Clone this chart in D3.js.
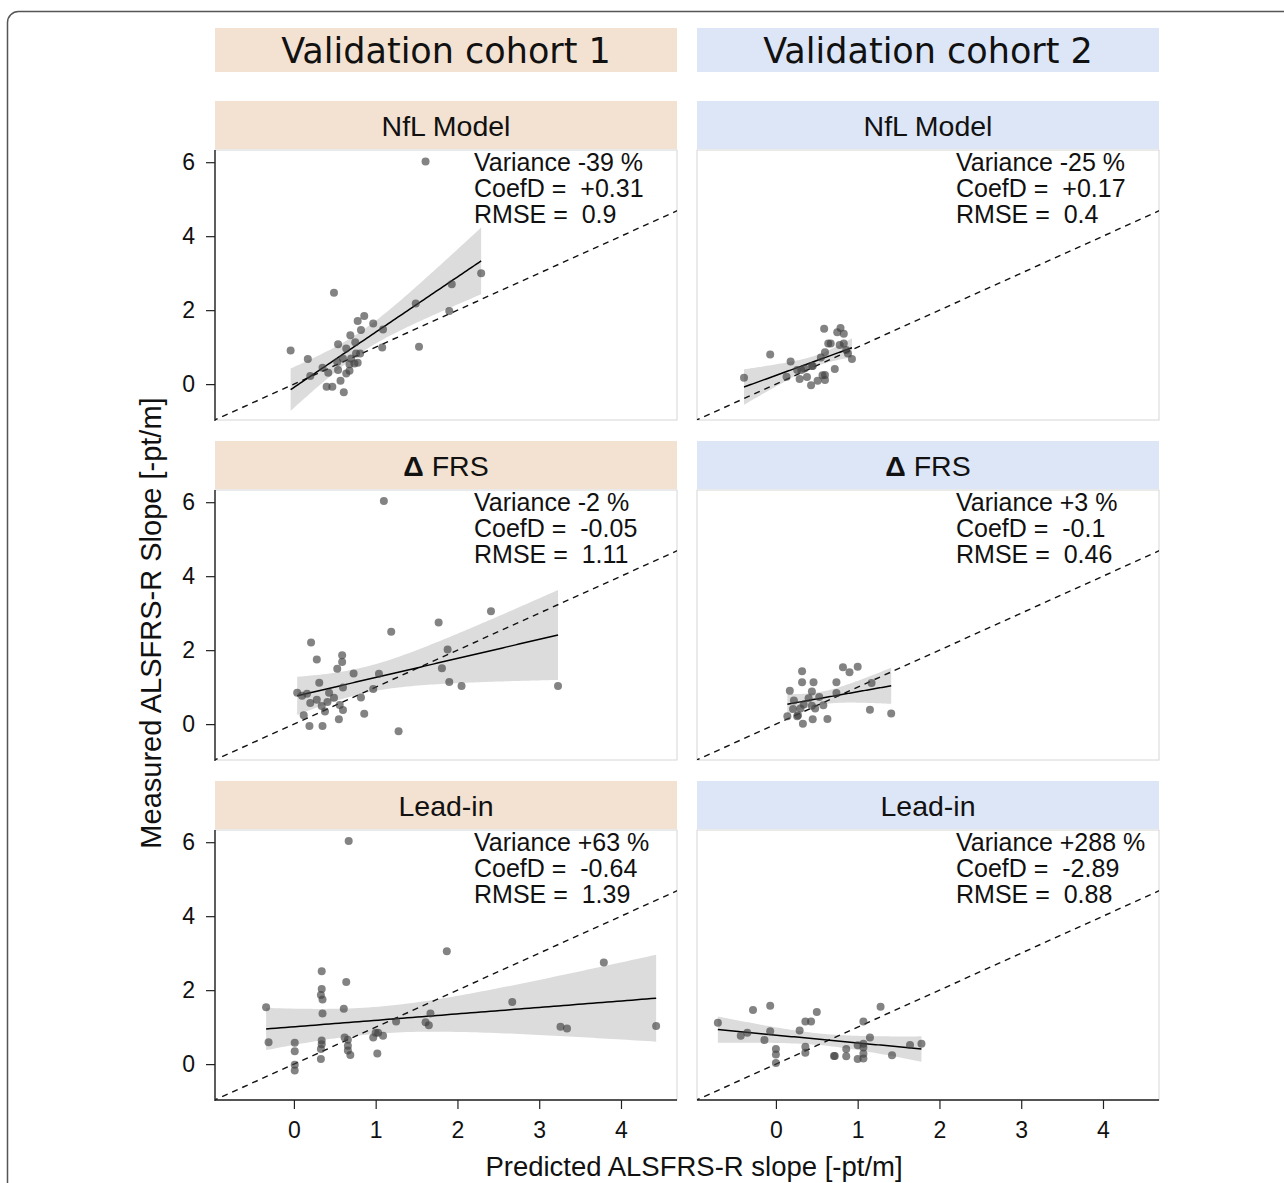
<!DOCTYPE html>
<html>
<head>
<meta charset="utf-8">
<script src="https://cdn.jsdelivr.net/npm/d3@7"></script>
<style>
  body { margin: 0; background: #fff; }
  svg text { font-family: "Liberation Sans", Arial, sans-serif; }
</style>
</head>
<body>
<div id="chart"></div>
<script>
// cohorts / models
var cohorts = ["Validation cohort 1", "Validation cohort 2"];
var models = ["NfL Model", "\u0394 FRS", "Lead-in"];
var stripColors = ["#f3e2d1", "#dde6f6"];

// measured vs predicted points: [predicted, measured]
var nflCohort1 = [[1.61,6.02],[0.49,2.47],[-0.04,0.91],[0.17,0.68],[0.20,0.22],[0.35,0.44],[0.42,0.31],[0.40,-0.07],
  [0.47,-0.07],[0.61,-0.22],[0.57,0.09],[0.54,1.08],[0.53,0.60],[0.54,0.38],[0.64,0.96],[0.60,0.69],[0.64,0.29],
  [0.68,0.36],[0.69,1.32],[0.70,0.69],[0.68,0.54],[0.75,1.13],[0.76,0.83],[0.81,0.83],[0.74,0.56],[0.78,0.58],
  [0.78,1.71],[0.82,1.46],[0.86,1.84],[0.97,1.64],[1.09,1.48],[1.08,0.99],[1.49,2.18],[1.53,1.01],[1.93,2.70],
  [1.90,1.98],[2.29,3.00]];
var nflCohort2 = [[-0.39,0.17],[-0.07,0.80],[0.18,0.61],[0.13,0.20],[0.26,0.38],[0.29,0.14],[0.31,0.38],[0.35,0.42],
  [0.38,0.19],[0.43,-0.03],[0.44,0.49],[0.45,0.49],[0.51,0.09],[0.55,0.72],[0.57,0.24],[0.60,0.25],[0.60,0.11],
  [0.60,0.86],[0.59,1.50],[0.64,1.10],[0.67,1.10],[0.72,0.41],[0.75,1.40],[0.79,1.52],[0.78,1.06],[0.83,1.36],
  [0.83,1.10],[0.88,0.83],[0.93,0.68],[0.86,0.92]];
var frsCohort1 = [[1.10,6.03],[0.21,2.21],[0.28,1.75],[0.59,1.86],[0.59,1.68],[0.53,1.50],[0.73,1.37],[0.31,1.12],
  [0.60,0.99],[0.04,0.85],[0.10,0.77],[0.16,0.82],[0.20,0.57],[0.28,0.66],[0.43,0.85],[0.49,0.71],[0.41,0.60],
  [0.34,0.49],[0.38,0.34],[0.12,0.24],[0.19,-0.05],[0.35,-0.05],[0.55,0.13],[0.56,0.52],[0.60,0.38],[0.82,0.72],
  [0.86,0.28],[0.97,0.95],[1.04,1.36],[1.19,2.50],[1.28,-0.19],[1.77,2.75],[1.88,2.02],[1.81,1.51],[1.90,1.14],
  [2.05,1.03],[2.41,3.05],[3.23,1.03]];
var frsCohort2 = [[0.32,1.43],[0.82,1.54],[0.90,1.40],[1.00,1.55],[0.32,1.13],[0.46,1.13],[0.74,1.13],[1.17,1.11],
  [0.17,0.90],[0.44,0.88],[0.74,0.84],[0.22,0.64],[0.40,0.70],[0.53,0.73],[0.34,0.53],[0.44,0.50],[0.58,0.51],
  [0.21,0.41],[0.30,0.42],[0.48,0.42],[0.14,0.21],[0.26,0.21],[0.27,0.24],[0.33,0.01],[0.45,0.13],[0.63,0.14],
  [1.15,0.39],[1.41,0.29]];
var leadCohort1 = [[0.67,6.03],[-0.34,1.54],[-0.31,0.59],[0.01,0.58],[0.01,0.35],[0.01,-0.02],[0.01,-0.17],[0.34,2.51],
  [0.34,2.03],[0.33,1.87],[0.35,1.75],[0.35,1.37],[0.34,0.64],[0.34,0.54],[0.33,0.41],[0.33,0.14],[0.64,2.22],
  [0.61,1.50],[0.62,0.72],[0.66,0.66],[0.66,0.50],[0.66,0.37],[0.69,0.25],[0.97,0.72],[1.00,0.85],[1.03,0.85],
  [1.09,0.77],[1.02,0.29],[1.25,1.15],[1.61,1.13],[1.65,1.05],[1.67,1.37],[1.87,3.05],[2.67,1.68],[3.26,1.01],
  [3.34,0.96],[3.79,2.75],[4.43,1.03]];
var leadCohort2 = [[-0.71,1.12],[-0.28,1.46],[-0.07,1.58],[-0.43,0.77],[-0.35,0.85],[-0.14,0.65],[-0.07,0.89],[0.00,0.41],
  [0.00,0.26],[0.00,0.03],[0.29,0.91],[0.36,1.15],[0.43,1.15],[0.50,1.41],[0.36,0.47],[0.36,0.31],[0.71,0.22],
  [0.72,0.22],[0.86,0.41],[0.86,0.21],[1.00,0.51],[1.07,0.55],[1.07,0.45],[1.07,0.28],[1.07,0.15],[1.00,0.14],
  [1.07,1.15],[1.15,0.72],[1.28,1.55],[1.42,0.24],[1.64,0.52],[1.78,0.55]];

// annotation stats per panel (row = model, col = cohort)
var varianceLabels = [["-39", "-25"], ["-2", "+3"], ["+63", "+288"]];
var coefDLabels = [["+0.31", "+0.17"], ["-0.05", "-0.1"], ["-0.64", "-2.89"]];
var rmseLabels = [["0.9", "0.4"], ["1.11", "0.46"], ["1.39", "0.88"]];

var panelData = [[nflCohort1, nflCohort2], [frsCohort1, frsCohort2], [leadCohort1, leadCohort2]];

var xTicks = [0, 1, 2, 3, 4];
var yTicks = [0, 2, 4, 6];

var W = 1284, H = 1183;
var svg = d3.select("#chart").append("svg").attr("width", W).attr("height", H);

// journal frame
svg.append("rect").attr("x", 7.5).attr("y", 11.5).attr("width", 1290).attr("height", 1200)
  .attr("rx", 11).attr("fill", "none").attr("stroke", "#555").attr("stroke-width", 1.5);

var panelLeft = [215, 697];
var panelTop = [150, 490, 830];
var pw = 462, ph = 270;

var x = d3.scaleLinear().domain([-0.965, 4.685]).range([0, pw]);
var y = d3.scaleLinear().domain([-0.97, 6.33]).range([ph, 0]);

// cohort headers
cohorts.forEach(function(c, j) {
  svg.append("rect").attr("x", panelLeft[j]).attr("y", 28).attr("width", pw).attr("height", 44)
    .attr("fill", stripColors[j]);
  svg.append("text").text(c).attr("x", panelLeft[j] + pw / 2).attr("y", 63)
    .attr("text-anchor", "middle").style("font-family", "'DejaVu Sans', sans-serif")
    .attr("font-size", "35px").attr("fill", "#111");
});

// simple OLS with 95% confidence band
function fit(pts) {
  var n = pts.length;
  var mx = d3.mean(pts, function(d) { return d[0]; });
  var my = d3.mean(pts, function(d) { return d[1]; });
  var sxx = d3.sum(pts, function(d) { return (d[0] - mx) * (d[0] - mx); });
  var sxy = d3.sum(pts, function(d) { return (d[0] - mx) * (d[1] - my); });
  var b = sxy / sxx, a = my - b * mx;
  var sse = d3.sum(pts, function(d) { var r = d[1] - a - b * d[0]; return r * r; });
  var s = Math.sqrt(sse / (n - 2));
  var t = 2.03;
  var ext = d3.extent(pts, function(d) { return d[0]; });
  var band = d3.range(0, 81).map(function(i) {
    var xv = ext[0] + (ext[1] - ext[0]) * i / 80;
    var yv = a + b * xv;
    var se = s * Math.sqrt(1 / n + (xv - mx) * (xv - mx) / sxx);
    return { x: xv, y: yv, lo: yv - t * se, hi: yv + t * se };
  });
  return band;
}

models.forEach(function(m, i) {
  cohorts.forEach(function(c, j) {
    var g = svg.append("g").attr("transform", "translate(" + panelLeft[j] + "," + panelTop[i] + ")");
    var clipId = "clip" + i + j;
    g.append("clipPath").attr("id", clipId).append("rect").attr("width", pw).attr("height", ph);

    // strip
    g.append("rect").attr("x", 0).attr("y", -49).attr("width", pw).attr("height", 48)
      .attr("fill", stripColors[j]);
    var st = g.append("text").attr("x", pw / 2).attr("y", -14).attr("text-anchor", "middle")
      .attr("font-size", "28.5px").attr("fill", "#111");
    if (i === 1) {
      st.append("tspan").text("\u0394").attr("font-weight", "bold");
      st.append("tspan").text(" FRS");
    } else {
      st.text(m);
    }

    // panel border
    g.append("rect").attr("width", pw).attr("height", ph).attr("fill", "#fff")
      .attr("stroke", "#d6d6d6").attr("stroke-width", 1);

    var inner = g.append("g").attr("clip-path", "url(#" + clipId + ")");
    var pts = panelData[i][j];
    var band = fit(pts);

    inner.append("path").datum(band)
      .attr("d", d3.area().x(function(d) { return x(d.x); })
        .y0(function(d) { return y(d.lo); }).y1(function(d) { return y(d.hi); }))
      .attr("fill", "#dcdcdc");

    // identity line
    inner.append("line").attr("x1", x(-1)).attr("y1", y(-1)).attr("x2", x(5)).attr("y2", y(5))
      .attr("stroke", "#111").attr("stroke-width", 1.4).attr("stroke-dasharray", "6,5");

    inner.append("path").datum(band)
      .attr("d", d3.line().x(function(d) { return x(d.x); }).y(function(d) { return y(d.y); }))
      .attr("fill", "none").attr("stroke", "#000").attr("stroke-width", 1.5);

    inner.selectAll("circle.pt").data(pts).enter().append("circle").attr("class", "pt")
      .attr("cx", function(d) { return x(d[0]); }).attr("cy", function(d) { return y(d[1]); })
      .attr("r", 4).attr("fill", "#404040").attr("fill-opacity", 0.65);

    // annotation
    var lines = ["Variance " + varianceLabels[i][j] + " %", "CoefD =  " + coefDLabels[i][j],
      "RMSE =  " + rmseLabels[i][j]];
    lines.forEach(function(l, k) {
      g.append("text").text(l).attr("x", 259).attr("y", 21 + k * 26)
        .attr("font-size", "25px").attr("fill", "#111").style("white-space", "pre");
    });

    // axes
    if (j === 0) {
      var ya = g.append("g").call(d3.axisLeft(y).tickValues(yTicks).tickSize(9).tickPadding(11)
        .tickFormat(d3.format("d")));
      ya.select(".domain").attr("stroke", "#222").attr("stroke-width", 1.4)
        .attr("d", "M0," + (ph + 1) + "V0");
      ya.selectAll(".tick line").attr("stroke", "#222").attr("stroke-width", 1.2);
      ya.selectAll("text").attr("font-size", "23px").attr("fill", "#111")
        .style("font-family", "'Liberation Sans', Arial, sans-serif");
    }
    if (i === 2) {
      var xa = g.append("g").attr("transform", "translate(0," + ph + ")")
        .call(d3.axisBottom(x).tickValues(xTicks).tickSize(9).tickPadding(13).tickFormat(d3.format("d")));
      xa.select(".domain").attr("stroke", "#222").attr("stroke-width", 1.4)
        .attr("d", "M0,0H" + pw);
      xa.selectAll(".tick line").attr("stroke", "#222").attr("stroke-width", 1.2);
      xa.selectAll("text").attr("font-size", "23px").attr("fill", "#111")
        .style("font-family", "'Liberation Sans', Arial, sans-serif");
    }
  });
});

// axis titles
svg.append("text").text("Predicted ALSFRS-R slope [-pt/m]").attr("x", 694).attr("y", 1176)
  .attr("text-anchor", "middle").attr("font-size", "27.5px").attr("fill", "#111");
svg.append("text").text("Measured ALSFRS-R Slope [-pt/m]")
  .attr("transform", "translate(161,623) rotate(-90)")
  .attr("text-anchor", "middle").attr("font-size", "29px").attr("fill", "#111");
</script>
</body>
</html>
